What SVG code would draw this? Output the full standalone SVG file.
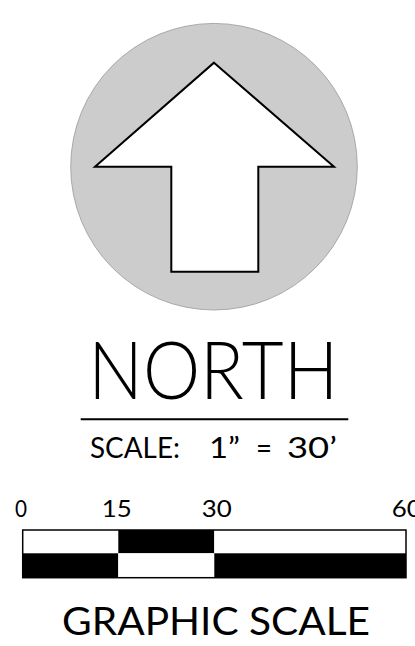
<svg xmlns="http://www.w3.org/2000/svg" width="415" height="646" viewBox="0 0 415 646">
<style>
text{font-family:Lato,"Liberation Sans",Arial,sans-serif;font-weight:400;fill:#000}
.light{font-weight:300}
.bw{fill:#fff;stroke:none}
.bb{fill:#000;stroke:none}
</style>
<rect width="415" height="646" fill="#fff"/>
<g id="north-arrow">
<circle cx="214" cy="166.7" r="143.3" fill="#cccccc" stroke="#999" stroke-width="0.8"/>
<polygon points="214,62.7 334,166.7 258.3,166.7 258.3,271.7 171.3,271.7 171.3,166.7 95,166.7" fill="#fff" stroke="#000" stroke-width="2" stroke-linejoin="miter"/>
</g>
<g id="north-label">
<text class="light" x="88.3" y="399" font-size="80" textLength="250" lengthAdjust="spacingAndGlyphs">NORTH</text>
<line x1="80.7" y1="419.3" x2="348.3" y2="419.3" stroke="#000" stroke-width="2"/>
<text x="90" y="458" font-size="28" textLength="90" lengthAdjust="spacingAndGlyphs">SCALE:</text>
<text x="209" y="458" font-size="28" textLength="31" lengthAdjust="spacingAndGlyphs">1”</text>
<text x="256" y="458" font-size="28" textLength="16" lengthAdjust="spacingAndGlyphs">=</text>
<text x="287" y="458" font-size="28" textLength="50" lengthAdjust="spacingAndGlyphs">30’</text>
</g>
<g id="graphic-scale">
<text x="15" y="516.7" font-size="24" textLength="12" lengthAdjust="spacingAndGlyphs">0</text>
<text x="101.7" y="516.7" font-size="24" textLength="30" lengthAdjust="spacingAndGlyphs">15</text>
<text x="201.7" y="516.7" font-size="24" textLength="30" lengthAdjust="spacingAndGlyphs">30</text>
<text x="391.7" y="516.7" font-size="24" textLength="30" lengthAdjust="spacingAndGlyphs">60</text>
<rect class="bw" x="22.7" y="530" width="95.6" height="23.3"/>
<rect class="bb" x="118.3" y="530" width="96" height="23.3"/>
<rect class="bw" x="214.3" y="530" width="191.7" height="23.3"/>
<rect class="bb" x="22.7" y="553.3" width="95.6" height="24.4"/>
<rect class="bw" x="118.3" y="553.3" width="96" height="24.4"/>
<rect class="bb" x="214.3" y="553.3" width="191.7" height="24.4"/>
<rect x="22.7" y="530" width="383.3" height="47.7" fill="none" stroke="#000" stroke-width="1.5"/>
<text x="62" y="635" font-size="38" textLength="308" lengthAdjust="spacingAndGlyphs">GRAPHIC SCALE</text>
</g>
</svg>
